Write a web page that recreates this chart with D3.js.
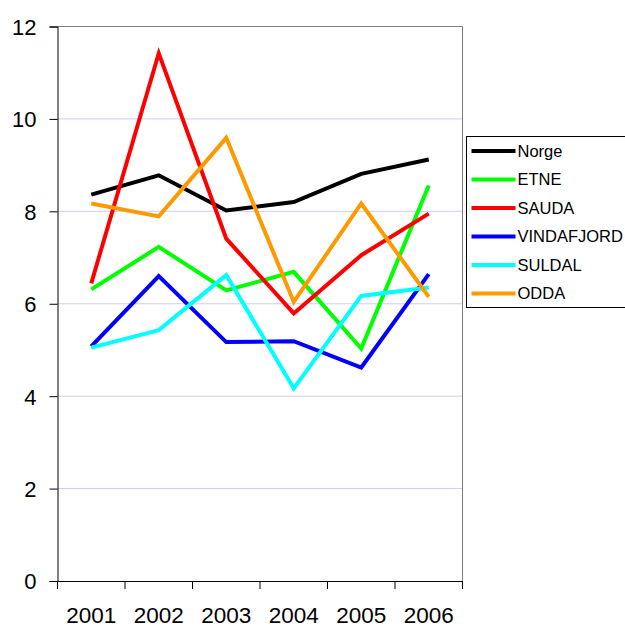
<!DOCTYPE html>
<html>
<head>
<meta charset="utf-8">
<script src="https://cdn.jsdelivr.net/npm/d3@7"></script>
<style>
  body { margin: 0; background: #fff; }
  text { font-family: "Liberation Sans", Arial, sans-serif; fill: #000; }
</style>
</head>
<body>
<div id="chart"></div>
<script>
// data
var years = ['2001', '2002', '2003', '2004', '2005', '2006'];
var norge = [8.36, 8.78, 8.02, 8.20, 8.81, 9.12];
var etne = [6.31, 7.23, 6.29, 6.69, 5.03, 8.56];
var sauda = [6.44, 11.42, 7.41, 5.79, 7.05, 7.95];
var vindafjord = [5.08, 6.60, 5.17, 5.19, 4.62, 6.64];
var suldal = [5.05, 5.43, 6.62, 4.17, 6.17, 6.35];
var odda = [8.17, 7.89, 9.59, 6.04, 8.17, 6.15];
var yTicks = [0, 2, 4, 6, 8, 10, 12];

var series = [
    {name: 'Norge', values: norge, color: '#000000'},
    {name: 'ETNE', values: etne, color: '#00ff00'},
    {name: 'SAUDA', values: sauda, color: '#ff0000'},
    {name: 'VINDAFJORD', values: vindafjord, color: '#0000ff'},
    {name: 'SULDAL', values: suldal, color: '#00ffff'},
    {name: 'ODDA', values: odda, color: '#ff9900'}
];

var W = 625, H = 626;
var plotL = 57.5, plotR = 462.5, plotT = 26.5, plotB = 581;

var svg = d3.select('#chart').append('svg').attr('width', W).attr('height', H);

var x = d3.scaleBand().domain(years).range([plotL, plotR]);
var y = d3.scaleLinear().domain([0, 12]).range([plotB, plotT]);

// gridlines
svg.append('g').selectAll('line').data(yTicks.filter(function (t) { return t > 0 && t < 12; }))
    .enter().append('line')
    .attr('x1', plotL).attr('x2', plotR)
    .attr('y1', function (d) { return y(d); }).attr('y2', function (d) { return y(d); })
    .attr('stroke', '#ccccff').attr('stroke-width', 1);

// plot frame top/right in grey
svg.append('path')
    .attr('d', 'M' + plotL + ',' + y(12) + 'H' + plotR + 'V' + plotB)
    .attr('fill', 'none').attr('stroke', '#808080').attr('stroke-width', 1);

// y axis
var yAxis = svg.append('g').attr('transform', 'translate(' + plotL + ',0)')
    .call(d3.axisLeft(y).tickValues(yTicks).tickSize(8).tickPadding(13).tickFormat(d3.format('d')));
yAxis.selectAll('text').style('font-size', '22px').attr('dy', '0.36em');

// x axis, ticks on band edges
var xAxis = svg.append('g').attr('transform', 'translate(0,' + plotB + ')')
    .call(d3.axisBottom(x).tickSize(0).tickPadding(26));
xAxis.selectAll('text').style('font-size', '22.5px');
xAxis.selectAll('line.edge').data(d3.range(years.length + 1)).enter().append('line')
    .attr('class', 'edge')
    .attr('x1', function (i) { return plotL + i * x.bandwidth(); })
    .attr('x2', function (i) { return plotL + i * x.bandwidth(); })
    .attr('y1', 0).attr('y2', 8)
    .attr('stroke', '#000');
svg.selectAll('.domain').attr('stroke', '#000');

// lines
var line = d3.line()
    .x(function (d, i) { return x(years[i]) + x.bandwidth() / 2; })
    .y(function (d) { return y(d); });

svg.append('g').selectAll('path').data(series).enter().append('path')
    .attr('d', function (s) { return line(s.values); })
    .attr('fill', 'none')
    .attr('stroke', function (s) { return s.color; })
    .attr('stroke-width', 4)
    .attr('stroke-linejoin', 'miter');

// legend
var lg = svg.append('g').attr('transform', 'translate(466.5,136.5)');
lg.append('rect').attr('width', 170).attr('height', 171)
    .attr('fill', '#fff').attr('stroke', '#000').attr('stroke-width', 1);
var items = lg.selectAll('g.item').data(series).enter().append('g')
    .attr('class', 'item')
    .attr('transform', function (s, i) { return 'translate(0,' + (14.5 + i * 28.5) + ')'; });
items.append('line').attr('x1', 5).attr('x2', 49).attr('y1', 0).attr('y2', 0)
    .attr('stroke', function (s) { return s.color; }).attr('stroke-width', 4);
items.append('text').text(function (s) { return s.name; })
    .attr('x', 51).attr('dy', '0.36em').style('font-size', '16.5px');
</script>
</body>
</html>
